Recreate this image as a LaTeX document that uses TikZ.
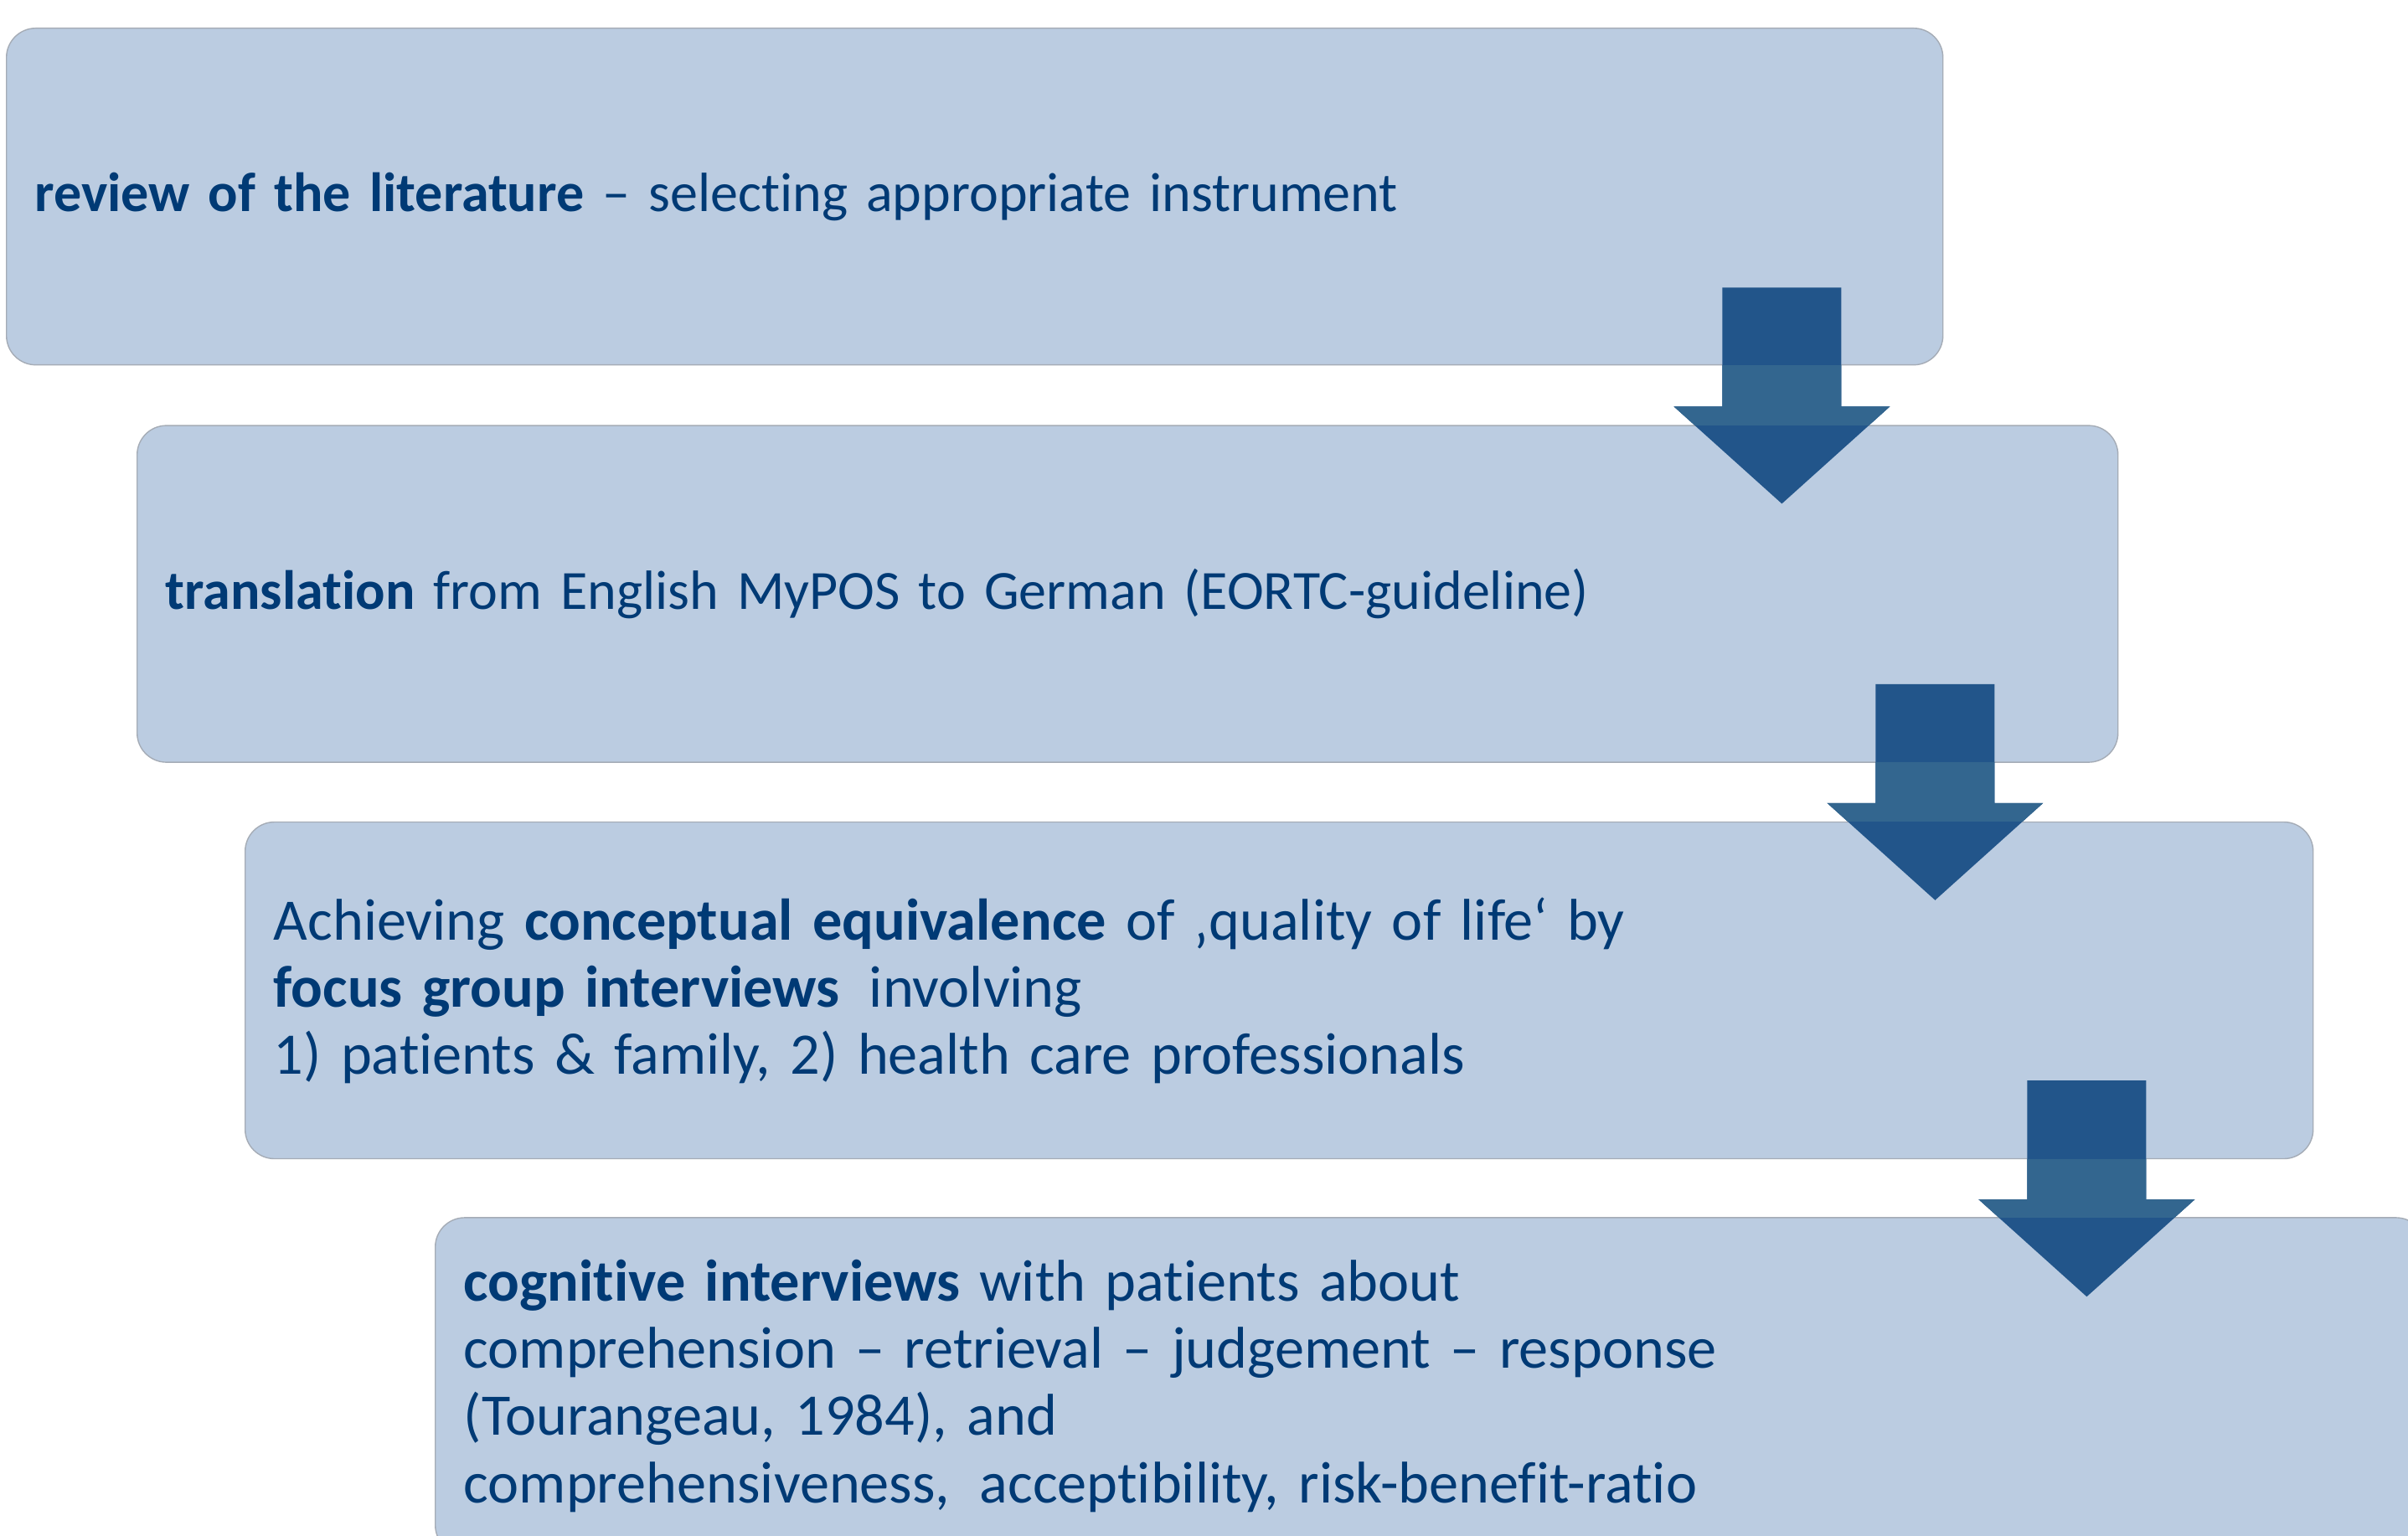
\documentclass[tikz,border=0pt]{standalone}
\usepackage{fontspec}
\setmainfont{Carlito}[Ligatures={NoCommon}]
\usetikzlibrary{positioning}

\definecolor{boxfill}{RGB}{187,204,225}
\definecolor{boxline}{RGB}{165,172,182}
\definecolor{textblue}{RGB}{0,58,117}
\definecolor{arrowdark}{RGB}{34,85,138}
\definecolor{arrowlight}{RGB}{51,102,143}

\newcommand{\flowarrow}[2]{\fill[#2] (#1) ++(-0.71,0) -- ++(1.42,0) -- ++(0,-1.42) -- ++(0.58,0) -- ++(-1.29,-1.16) -- ++(-1.29,1.16) -- ++(0.58,0) -- cycle;}

\begin{document}
\begin{tikzpicture}[
					stepbox/.style={draw=boxline, line width=0.4pt, fill=boxfill, rounded corners=0.35cm,
						minimum height=4.02cm, text width=#1, inner xsep=0.34cm, inner ysep=0pt,
						align=left, text=textblue, font=\fontsize{18.8}{22.8}\selectfont},
					bigtext/.style={font=\fontsize{20}{22.8}\selectfont}
					]
					\useasboundingbox (0,0) rectangle (28.75,-18.34);
					\clip (0,0) rectangle (28.75,-18.34);
					\node[stepbox=22.44cm, anchor=north west] (review) at (0.07,-0.33)
					{\textbf{review of the literature} – selecting appropriate instrument};
					\node[stepbox=22.97cm, below right=0.71cm and 1.56cm of review.south west] (translation)
					{\textbf{translation} from English MyPOS to German (EORTC-guideline)};
					\node[stepbox=24.01cm, bigtext, below right=0.70cm and 1.29cm of translation.south west] (equivalence)
					{Achieving \textbf{conceptual equivalence} of ‚quality of life‘ by\\
						\textbf{focus group interviews}\, involving\\
						1) patients \& family, 2) health care professionals};
					\node[stepbox=23.08cm, bigtext, below right=0.69cm and 2.27cm of equivalence.south west] (cognitive)
					{\textbf{cognitive interviews} with patients about\\
						comprehension – retrieval – judgement – response\\
						(Tourangeau, 1984), and\\
						comprehensiveness,\, acceptibility, risk-benefit-ratio};
					% arrows between the steps
					\coordinate (a1) at ([xshift=-1.93cm, yshift=0.93cm]review.south east);
					\coordinate (a2) at ([xshift=-2.19cm, yshift=0.94cm]translation.south east);
					\coordinate (a3) at ([xshift=-2.71cm, yshift=0.94cm]equivalence.south east);
					\foreach \a/\up/\down in {a1/review/translation, a2/translation/equivalence, a3/equivalence/cognitive} {
						\flowarrow{\a}{arrowdark}
						\begin{scope}
							\clip (\up.south west) rectangle (\down.north east);
							\flowarrow{\a}{arrowlight}
						\end{scope}
					}
				\end{tikzpicture}
\end{document}
